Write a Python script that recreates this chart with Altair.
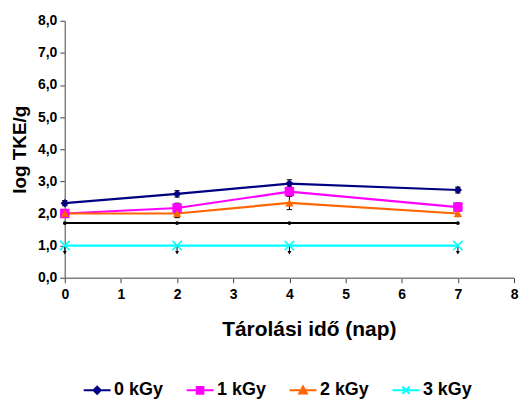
import altair as alt
import pandas as pd

days = [0, 2, 4, 7]
series = ["0 kGy", "1 kGy", "2 kGy", "3 kGy"]
values = {
    "0 kGy": [2.32, 2.61, 2.93, 2.73],
    "1 kGy": [2.00, 2.17, 2.68, 2.20],
    "2 kGy": [2.00, 2.00, 2.33, 2.00],
    "3 kGy": [1.00, 1.00, 1.00, 1.00],
}
errors = {
    "0 kGy": [0.08, 0.10, 0.12, 0.09],
    "1 kGy": [0.12, 0.15, 0.15, 0.13],
    "2 kGy": [0.10, 0.13, 0.21, 0.10],
    "3 kGy": [0.0, 0.0, 0.0, 0.0],
}
limit_values = [1.70, 1.70, 1.70, 1.70]
arrow_low = [0.78, 0.78, 0.78, 0.78]

colors = ["#000080", "#FF00FF", "#FF6600", "#00FFFF"]
marker_shapes = ["diamond", "square", "triangle-up", "M-1,-1L1,1M-1,1L1,-1"]
marker_sizes = [70, 90, 70, 90]
legend_shapes = [
    "M-3,0H3M0,-0.8L0.8,0L0,0.8L-0.8,0Z",
    "M-3,0H3M-0.75,-0.75H0.75V0.75H-0.75Z",
    "M-3,0H3M0,-0.85L0.85,0.7H-0.85Z",
    "M-3,0H3M-0.8,-0.8L0.8,0.8M-0.8,0.8L0.8,-0.8",
]

rows = []
for s in series:
    for d, v, e in zip(days, values[s], errors[s]):
        rows.append({"series": s, "day": d, "value": v, "lo": v - e, "hi": v + e})
df = pd.DataFrame(rows)
df_err = df[df["series"] != "3 kGy"]

limit_df = pd.DataFrame({"day": days, "value": limit_values})
arrow_df = pd.DataFrame({"day": days, "top": values["3 kGy"], "low": arrow_low})
legend_df = pd.DataFrame({"series": series})

FONT = "Liberation Sans"

xscale = alt.Scale(domain=[0, 8], nice=False, zero=False)
yscale = alt.Scale(domain=[0, 8], nice=False)

x_enc = alt.X(
    "day:Q",
    scale=xscale,
    axis=alt.Axis(
        title="Tárolási idő (nap)",
        values=list(range(0, 9)),
        tickCount=9,
        format="d",
        grid=False,
        tickSize=5,
        labelPadding=5,
        labelOverlap=False,
        labelFlush=False,
        titleX=245,
        titleY=58,
        titleAlign="center",
        titleBaseline="alphabetic",
        titleFontSize=21,
    ),
)
y_enc = alt.Y(
    "value:Q",
    scale=yscale,
    axis=alt.Axis(
        title="log TKE/g",
        values=list(range(0, 9)),
        tickCount=9,
        grid=False,
        tickSize=5,
        labelPadding=3,
        labelOverlap=False,
        labelFlush=False,
        titlePadding=8,
        titleFontSize=19,
        labelExpr="replace(format(datum.value, '.1f'), '.', ',')",
    ),
)

color_scale = alt.Scale(domain=series, range=colors)

base = alt.Chart(df)

lines = base.mark_line(strokeWidth=2.2).encode(
    x=x_enc, y=y_enc,
    color=alt.Color("series:N", scale=color_scale, legend=None),
    detail="series:N",
)

limit_line = alt.Chart(limit_df).mark_line(color="black", strokeWidth=2).encode(
    x="day:Q", y="value:Q"
)
limit_pts = alt.Chart(limit_df).mark_point(
    color="black", filled=True, size=14, shape="circle", opacity=1
).encode(x="day:Q", y="value:Q")

err_rules = alt.Chart(df_err).mark_rule(color="black", strokeWidth=1).encode(
    x="day:Q", y="lo:Q", y2="hi:Q"
)
err_caps_lo = alt.Chart(df_err).mark_point(
    shape="stroke", color="black", size=30, strokeWidth=1, opacity=1
).encode(x="day:Q", y="lo:Q")
err_caps_hi = alt.Chart(df_err).mark_point(
    shape="stroke", color="black", size=30, strokeWidth=1, opacity=1
).encode(x="day:Q", y="hi:Q")

arrow_rules = alt.Chart(arrow_df).mark_rule(color="black", strokeWidth=1).encode(
    x="day:Q", y="top:Q", y2="low:Q"
)
arrow_heads = alt.Chart(arrow_df).mark_point(
    shape="triangle-down", color="black", filled=True, size=16, opacity=1
).encode(x="day:Q", y="low:Q")

marker_layers = []
for s, c, sh, sz in zip(series, colors, marker_shapes, marker_sizes):
    sub = df[df["series"] == s]
    if sh.startswith("M"):
        m = alt.Chart(sub).mark_point(
            shape=sh, color=c, filled=False, size=sz, strokeWidth=1.5, opacity=1
        )
    else:
        m = alt.Chart(sub).mark_point(
            shape=sh, color=c, filled=True, size=sz, opacity=1
        )
    marker_layers.append(m.encode(x="day:Q", y="value:Q"))

main = alt.layer(
    lines, limit_line, limit_pts, err_rules, err_caps_lo, err_caps_hi,
    arrow_rules, arrow_heads, *marker_layers
).properties(width=451, height=258)

# legend row (line + marker symbol, then label)
leg_x = alt.X(
    "series:N",
    scale=alt.Scale(domain=series, type="point", padding=0, range=[32.5, 342.5]),
    axis=None,
)
legend_syms = alt.Chart(legend_df).mark_point(
    filled=True, strokeWidth=2, size=81, opacity=1
).encode(
    x=leg_x,
    y=alt.value(10),
    fill=alt.Fill("series:N", scale=alt.Scale(domain=series, range=colors), legend=None),
    stroke=alt.Stroke("series:N", scale=alt.Scale(domain=series, range=colors), legend=None),
    shape=alt.Shape("series:N", scale=alt.Scale(domain=series, range=legend_shapes), legend=None),
)
legend_text = alt.Chart(legend_df).mark_text(
    align="left", baseline="middle", dx=17, font=FONT, fontSize=18,
    fontWeight="bold", color="black",
).encode(x=leg_x, y=alt.value(10), text="series:N")
legend_row = alt.layer(legend_syms, legend_text).properties(width=451, height=20)

chart = alt.vconcat(main, legend_row, spacing=41).properties(
    padding={"left": 2, "top": 5, "right": 5, "bottom": 5},
    background="white",
).configure_view(
    stroke=None
).configure_axis(
    labelFont=FONT,
    labelFontSize=14,
    labelFontWeight="bold",
    labelColor="black",
    labelOverlap=False,
    titleFont=FONT,
    titleFontWeight="bold",
    titleColor="black",
    domainColor="#808080",
    domainWidth=1.5,
    tickColor="#404040",
    tickWidth=1,
)

chart.save("out.html", embed_options={"renderer": "svg", "actions": False})
